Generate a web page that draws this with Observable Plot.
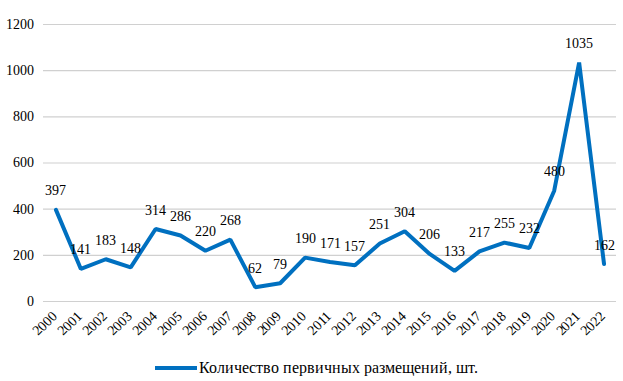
<!DOCTYPE html>
<html>
<head>
<meta charset="utf-8">
<style>
@font-face { font-family: "ChartSerif"; src: local("Liberation Serif"), local("LiberationSerif"), local("Times New Roman"); }
@font-face { font-family: "ChartSerif"; font-weight: bold; src: local("Liberation Serif Bold"), local("LiberationSerif-Bold"); }
body, #legend, #chart svg, #chart svg text { font-family: "ChartSerif", "Liberation Serif", serif !important; }
</style>
<script src="https://cdn.jsdelivr.net/npm/d3@7"></script>
<script src="https://cdn.jsdelivr.net/npm/@observablehq/plot@0.6"></script>
</head>
<body style="margin:0;background:#fff">
<div id="chart"></div>
<div id="legend" style="height:46px;display:flex;align-items:center;padding-left:155px;font-size:15.5px;color:#000"></div>
<script>
const years = [2000,2001,2002,2003,2004,2005,2006,2007,2008,2009,2010,2011,2012,2013,2014,2015,2016,2017,2018,2019,2020,2021,2022];
const counts = [397,141,183,148,314,286,220,268,62,79,190,171,157,251,304,206,133,217,255,232,480,1035,162];
const yTicks = [0,200,400,600,800,1000,1200];
const seriesName = "Количество первичных размещений, шт.";
const lineColor = "#0070C0";
const serifFont = "ChartSerif, 'Liberation Serif', serif";

const data = years.map((y, i) => ({year: y, value: counts[i]}));

const chart = Plot.plot({
  width: 623,
  height: 345,
  marginTop: 24,
  marginBottom: 44,
  marginLeft: 43,
  marginRight: 7,
  style: {fontSize: "14px", color: "#000", background: "#fff", fontFamily: serifFont},
  x: {type: "linear", domain: [years[0] - 0.5, years[years.length - 1] + 0.5], label: null},
  y: {domain: [0, 1200], label: null},
  marks: [
    Plot.gridY(yTicks, {stroke: "#d0d0d0", strokeOpacity: 1, strokeWidth: 1.2}),
    Plot.axisY(yTicks, {tickSize: 0, tickPadding: 10, fontSize: 14, label: null, tickFormat: d => String(d)}),
    Plot.axisX(years, {tickSize: 0, tickRotate: -45, tickPadding: 6, fontSize: 14, label: null, tickFormat: d => String(d), dx: -1, dy: 6}),
    Plot.line(data, {x: "year", y: "value", stroke: lineColor, strokeWidth: 4, strokeLinejoin: "miter"}),
    Plot.text(data, {x: "year", y: "value", text: d => String(d.value), dy: -19, fontSize: 14, fill: "#000"})
  ]
});
document.getElementById("chart").appendChild(chart);

const legend = document.getElementById("legend");
legend.innerHTML = `<svg width="42" height="10"><line x1="0" y1="5" x2="42" y2="5" stroke="${lineColor}" stroke-width="4"/></svg><span style="margin-left:2px">${seriesName}</span>`;

document.querySelectorAll("svg, g, text").forEach(el => {
  el.style.setProperty("font-family", serifFont, "important");
});
</script>
</body>
</html>
